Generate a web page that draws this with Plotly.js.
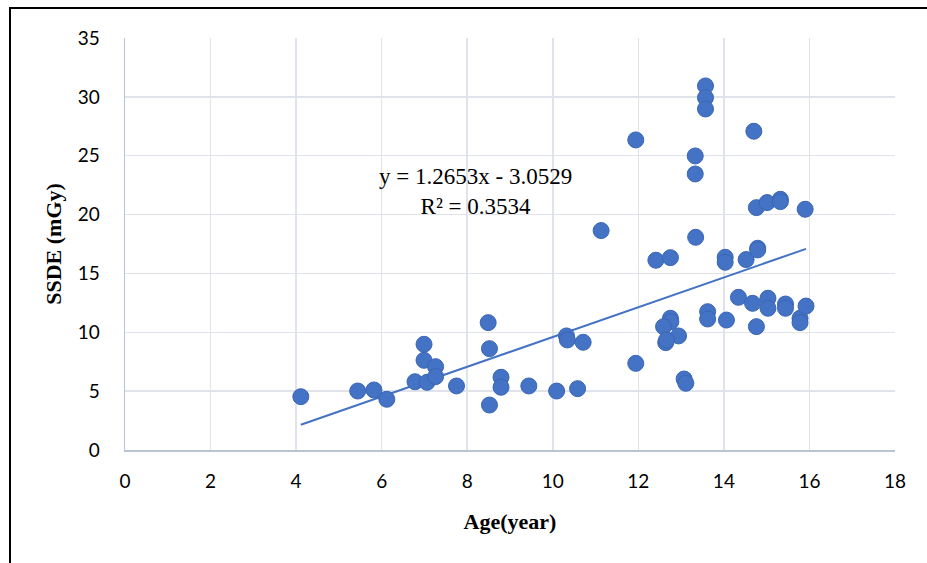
<!DOCTYPE html>
<html>
<head>
<meta charset="utf-8">
<script src="https://cdn.plot.ly/plotly-3.0.1.min.js"></script>
<style>
html,body{margin:0;padding:0;background:#fff;}
#chart{width:927px;height:563px;}
</style>
</head>
<body>
<div id="chart"></div>
<script>
const ageYears = [4.11,5.44,5.82,6.12,6.78,6.99,6.99,7.06,7.26,7.26,7.75,8.49,8.52,8.52,8.79,8.79,9.44,10.09,10.58,10.32,10.34,10.71,11.13,11.94,11.94,12.41,12.75,12.75,12.76,12.59,12.94,12.64,12.66,13.07,13.11,13.33,13.33,13.34,13.57,13.57,13.57,13.62,13.62,14.03,14.03,14.06,14.34,14.52,14.67,14.70,14.76,14.79,14.79,14.76,15.03,15.03,15.01,15.32,15.32,15.44,15.44,15.78,15.78,15.90,15.92];
const ssdeMGy = [4.53,5.01,5.10,4.31,5.80,8.98,7.62,5.75,7.08,6.23,5.44,10.82,8.61,3.82,6.18,5.33,5.44,5.01,5.21,9.69,9.35,9.15,18.64,26.34,7.36,16.12,16.34,11.19,10.90,10.48,9.69,9.12,9.35,6.03,5.67,24.98,23.45,18.07,30.93,29.93,28.97,11.75,11.13,16.37,15.95,11.04,12.97,16.18,12.46,27.08,20.59,17.14,17.00,10.48,12.89,12.04,21.02,21.30,21.10,12.40,12.04,11.19,10.82,20.45,12.23];
const trendSlope = 1.2653;
const trendIntercept = -3.0529;
const trendR2 = 0.3534;
const xTicks = [0,2,4,6,8,10,12,14,16,18];
const yTicks = [0,5,10,15,20,25,30,35];

const xMin = Math.min(...ageYears), xMax = Math.max(...ageYears);
const trendX = [xMin, xMax];
const trendY = trendX.map(x => trendSlope * x + trendIntercept);

const points = {
  x: ageYears, y: ssdeMGy, type: 'scatter', mode: 'markers',
  marker: {color: '#4472C4', size: 16, line: {color: '#3A66B5', width: 1}},
  hoverinfo: 'x+y', showlegend: false
};
const trend = {
  x: trendX, y: trendY, type: 'scatter', mode: 'lines',
  line: {color: '#4472C4', width: 2}, hoverinfo: 'skip', showlegend: false
};

const gridCol = '#E0E3EA';
const axisCol = '#BAC3D3';
const tickFont = {family: 'Lato, "Open Sans", sans-serif', size: 19, color: '#000'};
const titleFont = {family: '"Liberation Serif", "Times New Roman", serif', size: 22, color: '#000', weight: 'bold'};

const layout = {
  width: 927, height: 563,
  margin: {l: 125, r: 32, t: 38, b: 113},
  paper_bgcolor: '#fff', plot_bgcolor: '#fff',
  xaxis: {
    range: [0, 18], tickvals: xTicks, ticktext: xTicks.map(String),
    showgrid: true, gridcolor: gridCol, gridwidth: 1.5,
    showline: true, linecolor: axisCol, linewidth: 1.5,
    zeroline: false, ticks: '', tickfont: tickFont, ticklabelstandoff: 14,
    title: {text: '<b>Age(year)</b>', font: titleFont, standoff: 22}
  },
  yaxis: {
    range: [0, 35], tickvals: yTicks, ticktext: yTicks.map(String),
    showgrid: true, gridcolor: gridCol, gridwidth: 1.5,
    showline: true, linecolor: axisCol, linewidth: 1.5,
    zeroline: false, ticks: '', tickfont: tickFont, ticklabelstandoff: 20,
    title: {text: '<b>SSDE (mGy)</b>', font: titleFont, standoff: 10}
  },
  annotations: [{
    xref: 'x', yref: 'y', x: 8.2, y: 21.95, showarrow: false,
    text: 'y = ' + trendSlope.toFixed(4) + 'x - ' + Math.abs(trendIntercept).toFixed(4) + '<br>R² = ' + trendR2.toFixed(4),
    font: {family: '"Liberation Serif", "Times New Roman", serif', size: 23, color: '#000'},
    align: 'center'
  }],
  shapes: [
    {type: 'line', xref: 'paper', yref: 'paper', x0: -115/770, x1: -115/770, y0: 1 + 31/412, y1: -113/412, line: {color: '#000', width: 2}},
    {type: 'line', xref: 'paper', yref: 'paper', x0: -115/770, x1: 1 + 32/770, y0: 1 + 30/412, y1: 1 + 30/412, line: {color: '#000', width: 2}}
  ]
};

Plotly.newPlot('chart', [trend, points], layout, {displayModeBar: false, staticPlot: true});
</script>
</body>
</html>
